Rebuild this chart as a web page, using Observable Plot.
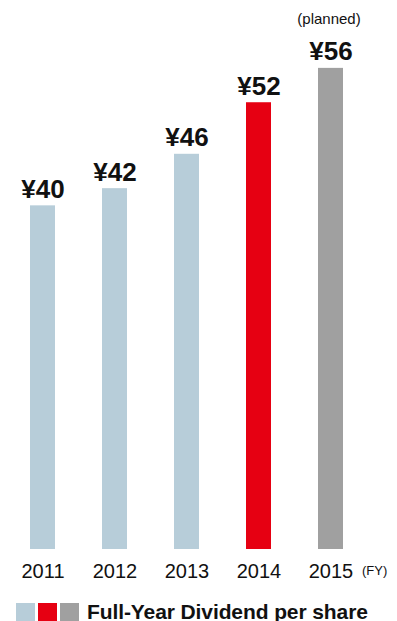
<!DOCTYPE html>
<html>
<head>
<meta charset="utf-8">
<script src="https://cdn.jsdelivr.net/npm/d3@7"></script>
<script src="https://cdn.jsdelivr.net/npm/@observablehq/plot@0.6"></script>
<style>
  html, body { margin: 0; padding: 0; background: #fff; }
  body { width: 397px; height: 621px; position: relative; overflow: hidden; font-family: "Liberation Sans", Arial, sans-serif; color: #111; }
  #chart { position: absolute; left: 0; top: 0; }
  #legend { position: absolute; left: 16px; top: 603px; display: flex; align-items: flex-start; white-space: nowrap; }
  #legend .sw { width: 19px; height: 18px; margin-right: 3px; }
  #legend .lbl { font-weight: bold; font-size: 21px; line-height: 18px; margin-left: 5px; letter-spacing: -0.1px; }
</style>
</head>
<body>
<div id="chart"></div>
<div id="legend"></div>
<script>
const years = ["2011", "2012", "2013", "2014", "2015"];
const dividends = [40, 42, 46, 52, 56];
const valueLabels = ["¥40", "¥42", "¥46", "¥52", "¥56"];
const barColors = ["#b7cdd9", "#b7cdd9", "#b7cdd9", "#e60012", "#a0a0a0"];
const plannedNote = "(planned)";
const fyNote = "(FY)";
const legendText = "Full-Year Dividend per share";
const legendColors = ["#b7cdd9", "#e60012", "#a0a0a0"];

const data = years.map((y, i) => ({year: y, value: dividends[i], label: valueLabels[i], color: barColors[i]}));
const last = data.slice(-1);

const chart = Plot.plot({
  width: 397,
  height: 600,
  marginTop: 0,
  marginBottom: 51,
  marginLeft: 0,
  marginRight: 24,
  style: {fontFamily: '"Liberation Sans", Arial, sans-serif', color: "#111", background: "#fff"},
  x: {domain: years, paddingInner: 0.655, paddingOuter: 0.4, label: null},
  y: {domain: [0, 63.9], axis: null},
  marks: [
    Plot.barY(data, {x: "year", y: "value", fill: "color"}),
    Plot.text(data, {x: "year", y: "value", text: "label", lineAnchor: "bottom", dy: -8, fontSize: 26, fontWeight: "bold", fill: "#111"}),
    Plot.text(last, {x: "year", y: "value", text: () => plannedNote, lineAnchor: "bottom", dy: -44, dx: -2, fontSize: 15, fill: "#111"}),
    Plot.axisX({tickSize: 0, tickPadding: 14, fontSize: 20, label: null}),
    Plot.text(last, {x: "year", frameAnchor: "bottom", text: () => fyNote, lineAnchor: "bottom", dy: 25, dx: 31, textAnchor: "start", fontSize: 13, fill: "#111"})
  ]
});
document.getElementById("chart").appendChild(chart);

const legend = document.getElementById("legend");
legendColors.forEach(c => {
  const s = document.createElement("div");
  s.className = "sw";
  s.style.background = c;
  legend.appendChild(s);
});
const l = document.createElement("div");
l.className = "lbl";
l.textContent = legendText;
legend.appendChild(l);
</script>
</body>
</html>
